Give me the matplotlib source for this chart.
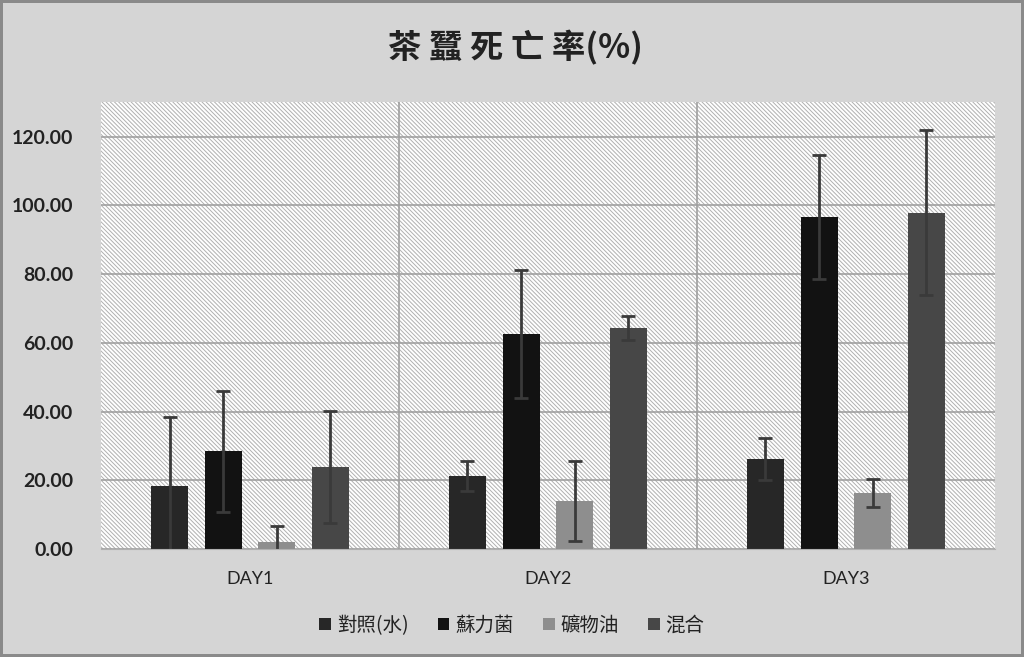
import numpy as np
import matplotlib
matplotlib.use('Agg')
import matplotlib.pyplot as plt
from matplotlib.patches import Rectangle

plt.rcParams['font.family'] = ['Noto Sans CJK TC', 'DejaVu Sans']
plt.rcParams['hatch.linewidth'] = 0.7

# data
days = ['DAY1', 'DAY2', 'DAY3']
groups = ['對照(水)', '蘇力菌', '礦物油', '混合']
ctrl_mean = [18.3, 21.3, 26.2]
ctrl_sd = [20.0, 4.4, 6.0]
bt_mean = [28.5, 62.6, 96.7]
bt_sd = [17.6, 18.6, 18.0]
oil_mean = [2.0, 14.0, 16.3]
oil_sd = [4.7, 11.7, 4.1]
mix_mean = [23.9, 64.4, 97.9]
mix_sd = [16.2, 3.5, 23.9]

means = [ctrl_mean, bt_mean, oil_mean, mix_mean]
sds = [ctrl_sd, bt_sd, oil_sd, mix_sd]
colors = ['#272727', '#121212', '#8e8e8e', '#474747']

fig = plt.figure(figsize=(10.24, 6.57), dpi=100)
fig.patch.set_facecolor('#d5d5d5')
fig.patch.set_edgecolor('#8a8a8a')
fig.patch.set_linewidth(3)

ax = fig.add_axes([0.0986, 0.1644, 0.873, 0.680])
ax.patch.set_facecolor('white')
# hatched plot area background
ax.add_patch(Rectangle((0, 0), 1, 1, transform=ax.transAxes, facecolor='white',
                       edgecolor='#b0b0b0', hatch='\\' * 8, lw=0, zorder=0))

x = np.arange(len(days))
width = 0.124
step = 0.18
for i in range(len(groups)):
    off = (i - 1.5) * step
    ax.bar(x + off, means[i], width, color=colors[i], label=groups[i], zorder=3)
    ax.errorbar(x + off, means[i], yerr=sds[i], fmt='none', ecolor='#3a3a3a',
                elinewidth=2, capsize=5, capthick=2, zorder=4)

ax.set_xlim(-0.5, 2.5)
ax.set_ylim(0, 130)
ax.set_yticks(np.arange(0, 121, 20))
ax.set_yticklabels(['%.2f' % v for v in np.arange(0, 121, 20)],
                   family='Lato', fontsize=14, fontweight='bold', color='#222222')
ax.set_xticks(x)
ax.set_xticklabels(days, family='Lato', fontsize=13, color='#222222')
ax.tick_params(axis='both', length=0)
ax.tick_params(axis='x', pad=16)
ax.tick_params(axis='y', pad=20)
ax.grid(axis='y', color='#a0a0a0', lw=1.2, zorder=1)
for b in [0.5, 1.5]:
    ax.axvline(b, color='#a0a0a0', lw=1.2, zorder=1)
for s in ['top', 'right', 'left']:
    ax.spines[s].set_visible(False)
ax.spines['bottom'].set_color('#b0b0b0')
ax.spines['bottom'].set_zorder(5)

fig.text(0.503, 0.928, '茶 蠶 死 亡 率(%)', ha='center', va='center',
         fontsize=24, fontweight='bold', color='#222222')

fig.legend(loc='center', bbox_to_anchor=(0.5, 0.048), ncol=4, frameon=False,
           fontsize=14, handlelength=0.6, handleheight=0.6, handletextpad=0.3,
           columnspacing=1.5, labelcolor='#222222')

fig.savefig('out.png', dpi=100, facecolor=fig.get_facecolor(),
            edgecolor=fig.get_edgecolor())
